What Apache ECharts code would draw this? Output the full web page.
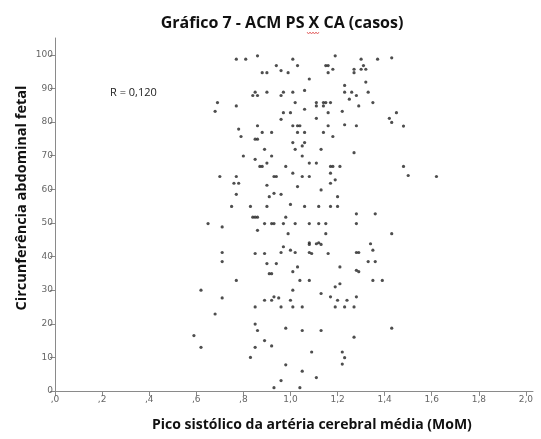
<!DOCTYPE html>
<html>
<head>
<meta charset="utf-8">
<script src="https://cdn.jsdelivr.net/npm/echarts@6/dist/echarts.min.js"></script>
<style>
html,body{margin:0;padding:0;background:#fff;}
#c{width:541px;height:439px;}
</style>
</head>
<body>
<div id="c"></div>
<script>
// Pico sistólico da ACM (MoM)
const psAcm = [
0.77,0.81,0.86,1.01,1.19,1.30,1.37,1.43,0.94,1.03,1.15,1.16,1.18,1.16,1.27,1.27,1.30,1.31,1.32,0.88,
0.90,0.96,0.99,1.08,1.32,1.23,0.85,0.84,0.86,0.90,0.96,0.97,1.01,1.06,1.23,1.26,1.28,1.25,1.33,0.69,
0.68,0.77,1.02,1.11,1.11,1.14,1.15,1.14,1.17,1.29,1.35,0.97,1.00,1.06,1.16,1.22,1.45,1.42,1.43,0.96,
1.11,0.78,0.79,0.86,0.88,0.92,1.01,1.03,1.04,1.03,1.06,1.16,1.14,1.18,1.23,1.28,0.85,0.86,1.01,1.06,
1.05,1.02,0.89,1.13,1.27,0.80,0.85,0.92,1.05,0.90,0.87,0.88,0.98,1.08,1.11,1.17,1.18,1.21,0.70,0.77,
0.93,0.94,1.01,1.05,1.08,1.17,1.19,0.76,0.78,0.90,1.03,1.17,0.77,0.93,0.96,0.91,1.13,1.20,0.75,0.83,
0.90,1.00,1.06,1.12,1.17,1.20,1.28,1.36,0.84,0.85,0.86,0.98,
0.65,0.71,0.89,0.92,0.93,0.97,1.02,1.08,1.12,1.15,1.28,0.86,0.99,1.15,1.43,
0.97,1.08,1.08,1.11,1.12,1.13,1.34,1.35,1.00,1.02,0.96,0.85,0.89,0.71,1.08,1.09,1.16,1.28,1.29,
0.71,0.90,0.94,1.21,1.03,1.01,1.33,1.36,0.91,0.92,1.28,1.29,
0.77,1.04,1.08,1.35,1.39,1.21,1.19,1.01,
0.62,0.71,0.89,0.92,0.93,0.95,1.00,1.13,1.17,1.20,1.24,1.28,
0.85,0.96,1.01,1.05,1.19,1.23,1.27,
0.68,
0.85,0.86,0.98,1.05,1.13,1.43,
1.27,0.89,0.92,0.85,0.62,
1.09,1.22,1.23,0.83,1.22,0.98,
1.05,1.11,0.96,0.93,1.04,
0.59,1.48,1.48,1.50,1.62
];
// Circunferência abdominal fetal
const caFetal = [
98.7,98.7,99.7,98.7,99.7,98.7,98.7,99.1,96.8,96.8,96.8,96.8,95.7,94.7,95.7,94.7,95.7,96.8,95.7,94.7,
94.7,95.3,94.7,92.8,91.9,90.9,88.9,87.9,87.9,88.9,87.9,88.9,88.9,89.4,88.9,88.9,87.9,86.8,88.9,85.8,
83.2,84.8,85.8,85.8,84.8,85.8,85.8,84.8,85.8,84.8,85.8,82.8,82.8,83.8,82.8,83.2,82.8,81.1,79.9,80.8,
81.1,77.9,75.7,78.9,76.9,76.9,78.9,78.9,78.9,76.9,76.9,78.9,76.9,75.7,79.2,78.9,74.9,74.9,73.9,73.9,
72.9,71.9,71.9,71.9,70.9,69.9,68.9,69.9,69.9,67.8,66.8,66.8,66.8,67.8,67.8,66.8,66.8,66.8,63.8,63.8,
63.8,63.8,64.8,63.8,63.8,64.8,62.8,61.8,61.8,61.2,60.8,61.8,58.5,58.8,58.5,57.8,59.8,57.8,54.9,54.9,
54.9,55.5,54.9,54.9,54.9,54.9,52.7,52.7,51.7,51.7,51.7,51.7,
49.8,48.8,49.8,49.8,49.8,49.8,49.8,49.8,49.8,49.8,49.8,47.8,46.8,46.8,46.8,
42.9,44.1,43.6,43.8,44.1,43.6,43.8,41.9,41.9,41.2,41.2,40.9,40.9,41.2,41.2,40.9,40.9,41.2,41.2,
38.5,37.9,37.9,36.9,36.9,35.5,38.5,38.5,34.9,34.9,35.9,35.5,
32.9,32.9,32.9,32.9,32.9,31.9,31.0,30.0,
30.0,27.7,27.0,27.0,28.0,27.7,27.0,29.0,28.0,27.0,27.0,28.0,
25.0,25.0,25.0,25.0,25.0,25.0,25.0,
22.9,
19.9,18.0,18.7,18.0,18.0,18.7,
16.0,15.0,13.4,13.0,13.0,
11.6,11.6,9.9,10.0,8.0,7.8,
5.9,4.0,3.1,1.0,1.0,
16.5,78.8,66.8,64.1,63.8
];
const yTicks = [0,10,20,30,40,50,60,70,80,90,100];
const xTicks = [0,0.2,0.4,0.6,0.8,1.0,1.2,1.4,1.6,1.8,2.0];
const xTickLabels = [',0',',2',',4',',6',',8','1,0','1,2','1,4','1,6','1,8','2,0'];

const points = psAcm.map((x,i)=>[x, caFetal[i]]);

const chart = echarts.init(document.getElementById('c'), null, {renderer:'canvas'});
const axisColor = '#8a8a8a';
chart.setOption({
  animation:false,
  backgroundColor:'#ffffff',
  title:{
    text:'Gráfico 7 - ACM PS X CA (casos)',
    left:277, top:10, textAlign:'center',
    textStyle:{fontFamily:'Open Sans', fontWeight:'bold', fontSize:16, color:'#111'}
  },
  graphic:[
    {type:'text', left:322-170, top:418, style:{text:'Pico sistólico da artéria cerebral média (MoM)', font:'bold 14px "Open Sans"', fill:'#111', width:340, align:'center'}},
    {type:'text', x:22, y:198, rotation:Math.PI/2, style:{text:'Circunferência abdominal fetal', font:'bold 14.5px "Open Sans"', fill:'#111', align:'center', verticalAlign:'middle'}},
    {type:'text', x:110, y:87, style:{text:'R = 0,120', font:'11px "Open Sans"', fill:'#222'}},
    {type:'polyline', shape:{points:[[307,32],[308.5,34],[310,32],[311.5,34],[313,32],[314.5,34],[316,32],[317.5,34],[319,32]]}, style:{stroke:'#e05050', lineWidth:0.8, fill:null}}
  ],
  grid:{left:55, right:8, top:38, bottom:48, containLabel:false},
  xAxis:{
    type:'value', min:0, max:2.03, interval:0.2,
    splitLine:{show:false},
    axisLine:{show:true, lineStyle:{color:axisColor, width:1}},
    axisTick:{show:true, length:5, lineStyle:{color:axisColor}, customValues:xTicks},
    axisLabel:{color:'#666', fontSize:9, fontFamily:'DejaVu Sans', margin:4, customValues:xTicks,
      formatter:(v)=>{const i=xTicks.findIndex(t=>Math.abs(t-v)<1e-6); return i>=0?xTickLabels[i]:'';}}
  },
  yAxis:{
    type:'value', min:0, max:105, interval:10,
    splitLine:{show:false},
    axisLine:{show:true, lineStyle:{color:axisColor, width:1}},
    axisTick:{show:true, length:5, lineStyle:{color:axisColor}, customValues:yTicks},
    axisLabel:{color:'#666', fontSize:9, fontFamily:'DejaVu Sans', margin:2, customValues:yTicks}
  },
  series:[{
    type:'scatter', data:points, symbol:'circle', symbolSize:3.2,
    itemStyle:{color:'#222'}
  }]
});
</script>
</body>
</html>
